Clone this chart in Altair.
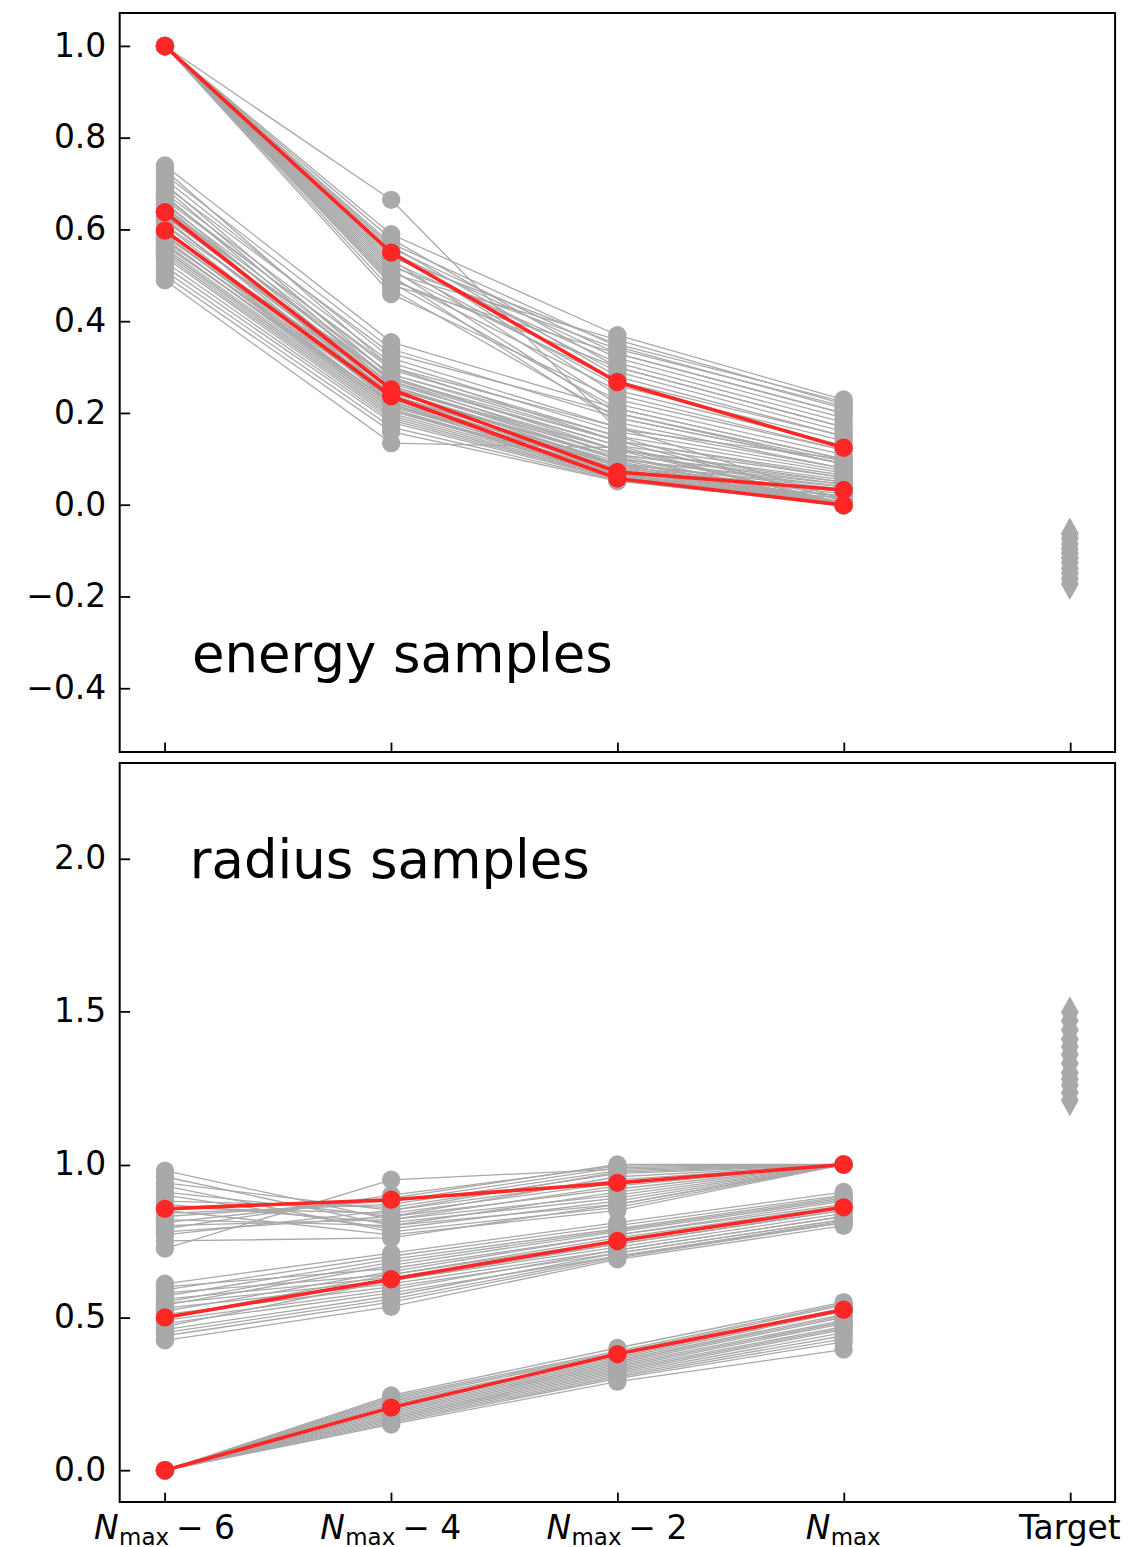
import altair as alt
import pandas as pd

# ---------------- data ----------------
X_INDEX = [0, 1, 2, 3, 4]
LABEL_HEAD = ["N", "N", "N", "N", "Target"]
LABEL_SUB = ["max", "max", "max", "max", ""]
LABEL_TAIL = ["\u2212 6", "\u2212 4", "\u2212 2", "", ""]

ANNOT_TOP = "energy samples"
ANNOT_BOTTOM = "radius samples"

# energy samples: highest state (starts at 1.0)
E_HI_0 = [1.0, 1.0, 1.0, 1.0, 1.0, 1.0, 1.0, 1.0, 1.0, 1.0, 1.0, 1.0,
          1.0, 1.0, 1.0, 1.0, 1.0, 1.0, 1.0, 1.0, 1.0, 1.0, 1.0, 1.0]
E_HI_1 = [0.665, 0.59, 0.58, 0.57, 0.565, 0.56, 0.555, 0.55, 0.545, 0.54, 0.535, 0.53,
          0.525, 0.52, 0.515, 0.51, 0.505, 0.50, 0.495, 0.49, 0.485, 0.48, 0.47, 0.46]
E_HI_2 = [0.165, 0.37, 0.30, 0.345, 0.28, 0.33, 0.24, 0.32, 0.29, 0.35, 0.22, 0.31,
          0.26, 0.34, 0.20, 0.27, 0.36, 0.18, 0.25, 0.30, 0.21, 0.33, 0.19, 0.23]
E_HI_3 = [0.10, 0.23, 0.17, 0.21, 0.15, 0.20, 0.12, 0.19, 0.16, 0.225, 0.11, 0.18,
          0.14, 0.215, 0.09, 0.15, 0.22, 0.08, 0.13, 0.17, 0.10, 0.20, 0.09, 0.12]
# energy samples: middle state
E_MID_0 = [0.74, 0.73, 0.72, 0.71, 0.70, 0.695, 0.69, 0.68, 0.675, 0.67, 0.66, 0.655,
           0.65, 0.645, 0.64, 0.63, 0.625, 0.62, 0.61, 0.60, 0.59, 0.58, 0.57, 0.555]
E_MID_1 = [0.355, 0.30, 0.34, 0.32, 0.28, 0.33, 0.27, 0.31, 0.26, 0.295, 0.25, 0.285,
           0.24, 0.275, 0.235, 0.265, 0.23, 0.255, 0.225, 0.245, 0.22, 0.215, 0.21, 0.205]
E_MID_2 = [0.21, 0.14, 0.19, 0.17, 0.12, 0.20, 0.11, 0.16, 0.10, 0.15, 0.09, 0.14,
           0.085, 0.13, 0.08, 0.12, 0.075, 0.11, 0.07, 0.10, 0.065, 0.09, 0.06, 0.075]
E_MID_3 = [0.10, 0.06, 0.09, 0.08, 0.05, 0.095, 0.045, 0.075, 0.04, 0.07, 0.035, 0.065,
           0.03, 0.06, 0.03, 0.055, 0.025, 0.05, 0.02, 0.045, 0.02, 0.04, 0.015, 0.03]
# energy samples: lowest state
E_LO_0 = [0.665, 0.65, 0.64, 0.63, 0.62, 0.61, 0.60, 0.595, 0.59, 0.585, 0.58, 0.575,
          0.57, 0.565, 0.56, 0.555, 0.55, 0.545, 0.54, 0.53, 0.52, 0.51, 0.50, 0.49]
E_LO_1 = [0.30, 0.27, 0.285, 0.26, 0.25, 0.275, 0.24, 0.255, 0.23, 0.245, 0.22, 0.235,
          0.215, 0.225, 0.21, 0.205, 0.20, 0.195, 0.19, 0.185, 0.18, 0.17, 0.16, 0.135]
E_LO_2 = [0.17, 0.13, 0.15, 0.11, 0.10, 0.14, 0.09, 0.12, 0.085, 0.105, 0.08, 0.095,
          0.075, 0.09, 0.07, 0.068, 0.065, 0.062, 0.06, 0.058, 0.056, 0.054, 0.052, 0.125]
E_LO_3 = [0.012, 0.0, 0.008, 0.0, 0.0, 0.01, 0.0, 0.005, 0.0, 0.004, 0.0, 0.006,
          0.0, 0.003, 0.0, 0.0, 0.002, 0.0, 0.0, 0.0, 0.0, 0.0, 0.0, 0.004]

E_RED_HI = [1.0, 0.55, 0.268, 0.125]
E_RED_MID = [0.638, 0.252, 0.072, 0.033]
E_RED_LO = [0.598, 0.237, 0.058, 0.0]

E_TARGET = [-0.062, -0.072, -0.085, -0.095, -0.105, -0.115, -0.125, -0.138,
            -0.148, -0.16, -0.172]

# radius samples: lowest state
R_LO_0 = [0.0, 0.0, 0.0, 0.0, 0.0, 0.0, 0.0, 0.0, 0.0, 0.0,
          0.0, 0.0, 0.0, 0.0, 0.0, 0.0, 0.0, 0.0, 0.0, 0.0]
R_LO_1 = [0.245, 0.24, 0.235, 0.23, 0.225, 0.22, 0.215, 0.21, 0.205, 0.20,
          0.195, 0.19, 0.185, 0.18, 0.175, 0.17, 0.165, 0.16, 0.155, 0.15]
R_LO_2 = [0.40, 0.39, 0.385, 0.38, 0.37, 0.365, 0.36, 0.355, 0.35, 0.345,
          0.34, 0.335, 0.33, 0.325, 0.32, 0.315, 0.31, 0.305, 0.30, 0.29]
R_LO_3 = [0.55, 0.545, 0.54, 0.53, 0.525, 0.52, 0.51, 0.505, 0.50, 0.49,
          0.485, 0.48, 0.47, 0.465, 0.46, 0.45, 0.44, 0.43, 0.42, 0.395]
# radius samples: middle state
R_MID_0 = [0.61, 0.60, 0.59, 0.58, 0.57, 0.56, 0.55, 0.545, 0.54, 0.53,
           0.52, 0.51, 0.50, 0.49, 0.48, 0.47, 0.46, 0.45, 0.44, 0.425]
R_MID_1 = [0.71, 0.66, 0.70, 0.64, 0.69, 0.63, 0.68, 0.62, 0.67, 0.61,
           0.65, 0.60, 0.64, 0.59, 0.58, 0.62, 0.57, 0.56, 0.55, 0.535]
R_MID_2 = [0.81, 0.77, 0.80, 0.75, 0.79, 0.74, 0.785, 0.73, 0.78, 0.72,
           0.77, 0.71, 0.76, 0.72, 0.70, 0.74, 0.71, 0.70, 0.695, 0.69]
R_MID_3 = [0.91, 0.88, 0.90, 0.86, 0.895, 0.85, 0.89, 0.84, 0.885, 0.83,
           0.87, 0.82, 0.865, 0.83, 0.81, 0.85, 0.82, 0.815, 0.81, 0.80]
# radius samples: highest state (ends at 1.0)
R_HI_0 = [0.98, 0.96, 0.94, 0.93, 0.91, 0.90, 0.88, 0.87, 0.86, 0.85,
          0.84, 0.83, 0.82, 0.81, 0.80, 0.79, 0.78, 0.77, 0.75, 0.725]
R_HI_1 = [0.82, 0.80, 0.85, 0.78, 0.83, 0.79, 0.86, 0.81, 0.84, 0.77,
          0.87, 0.88, 0.80, 0.89, 0.82, 0.90, 0.83, 0.85, 0.76, 0.95]
R_HI_2 = [0.90, 0.87, 0.95, 0.86, 0.92, 0.88, 0.97, 0.89, 0.94, 0.85,
          0.98, 0.99, 0.91, 1.0, 0.93, 0.995, 0.96, 0.975, 0.87, 0.985]
R_HI_3 = [1.0, 1.0, 1.0, 1.0, 1.0, 1.0, 1.0, 1.0, 1.0, 1.0,
          1.0, 1.0, 1.0, 1.0, 1.0, 1.0, 1.0, 1.0, 1.0, 1.0]

R_RED_LO = [0.0, 0.205, 0.38, 0.525]
R_RED_MID = [0.5, 0.625, 0.75, 0.86]
R_RED_HI = [0.855, 0.885, 0.94, 1.0]

R_TARGET = [1.21, 1.235, 1.26, 1.28, 1.30, 1.33, 1.36, 1.385, 1.41, 1.44, 1.47, 1.498]

# ---------------- styling ----------------
GRAY = "#a9a9a9"
RED = "#ff2626"
FONT = "DejaVu Sans"
W, H = 998, 741
DOT = 340
THIN_DIAMOND = "M0,-1L0.56,0L0,1L-0.56,0Z"


def sample_rows(groups, tag):
    rows = []
    for g, cols in enumerate(groups):
        for i in range(len(cols[0])):
            for k, col in enumerate(cols):
                rows.append({"line": f"{tag}{g}_{i}", "idx": X_INDEX[k], "value": col[i]})
    return pd.DataFrame(rows)


def red_rows(series, tag):
    rows = []
    for g, s in enumerate(series):
        for k, v in enumerate(s):
            rows.append({"line": f"{tag}{g}", "idx": X_INDEX[k], "value": v})
    return pd.DataFrame(rows)


def target_rows(vals):
    return pd.DataFrame({"idx": [X_INDEX[4]] * len(vals), "value": vals})


def panel(gray_df, red_df, tgt_df, ydomain, yticks, annot, annot_xy, with_labels):
    xs = alt.Scale(domain=[-0.2, 4.2], nice=False, zero=False)
    ys = alt.Scale(domain=ydomain, nice=False, zero=False)
    xaxis = alt.Axis(values=X_INDEX, labels=False, offset=-10, tickSize=10, tickWidth=1.8,
                     tickColor="black", domain=False, grid=False, title=None)
    yaxis = alt.Axis(values=yticks, format=".1f", offset=-10, tickSize=10, tickWidth=1.8,
                     tickColor="black", domain=False, grid=False, title=None,
                     labelPadding=14, labelFont=FONT, labelFontSize=33, labelColor="black")
    X = alt.X("idx:Q", scale=xs, axis=xaxis)
    Y = alt.Y("value:Q", scale=ys, axis=yaxis)

    gl = alt.Chart(gray_df).mark_line(color=GRAY, strokeWidth=1.3).encode(x=X, y=Y, detail="line:N")
    gp = alt.Chart(gray_df).mark_circle(color=GRAY, size=DOT, opacity=1).encode(x=X, y=Y)
    rl = alt.Chart(red_df).mark_line(color=RED, strokeWidth=3.6).encode(x=X, y=Y, detail="line:N")
    rp = alt.Chart(red_df).mark_circle(color=RED, size=DOT, opacity=1).encode(x=X, y=Y)
    tg = alt.Chart(tgt_df).mark_point(shape=THIN_DIAMOND, filled=True, color=GRAY, size=1024,
                                      opacity=1, strokeWidth=0).encode(x=X, y=Y)
    ann_df = pd.DataFrame({"idx": [annot_xy[0]], "value": [annot_xy[1]], "t": [annot]})
    an = alt.Chart(ann_df).mark_text(font=FONT, fontSize=53, align="left", baseline="alphabetic",
                                     color="black").encode(x=X, y=Y, text="t:N")
    layers = [gl, gp, rl, rp, tg, an]

    if with_labels:
        lab = pd.DataFrame({"idx": X_INDEX, "head": LABEL_HEAD, "sub": LABEL_SUB, "tail": LABEL_TAIL})
        base = alt.Chart(lab)
        yb = alt.value(H + 37)
        ys_ = alt.value(H + 43)
        common = dict(font=FONT, baseline="alphabetic", color="black")
        withtail = base.transform_filter("datum.tail != ''")
        notail = base.transform_filter("datum.tail == '' && datum.sub != ''")
        plain = base.transform_filter("datum.sub == ''")
        layers += [
            withtail.mark_text(fontSize=33, fontStyle="italic", align="left", dx=-71, **common)
                .encode(x=X, y=yb, text="head:N"),
            withtail.mark_text(fontSize=23, align="left", dx=-46, **common)
                .encode(x=X, y=ys_, text="sub:N"),
            withtail.mark_text(fontSize=33, align="left", dx=11, **common)
                .encode(x=X, y=yb, text="tail:N"),
            notail.mark_text(fontSize=33, fontStyle="italic", align="left", dx=-38, **common)
                .encode(x=X, y=yb, text="head:N"),
            notail.mark_text(fontSize=23, align="left", dx=-13, **common)
                .encode(x=X, y=ys_, text="sub:N"),
            plain.mark_text(fontSize=33, align="center", **common)
                .encode(x=X, y=yb, text="head:N"),
        ]
    return alt.layer(*layers).properties(width=W, height=H)


energy_gray = sample_rows([
    [E_HI_0, E_HI_1, E_HI_2, E_HI_3],
    [E_MID_0, E_MID_1, E_MID_2, E_MID_3],
    [E_LO_0, E_LO_1, E_LO_2, E_LO_3],
], "e")
energy_red = red_rows([E_RED_HI, E_RED_MID, E_RED_LO], "er")
radius_gray = sample_rows([
    [R_LO_0, R_LO_1, R_LO_2, R_LO_3],
    [R_MID_0, R_MID_1, R_MID_2, R_MID_3],
    [R_HI_0, R_HI_1, R_HI_2, R_HI_3],
], "r")
radius_red = red_rows([R_RED_LO, R_RED_MID, R_RED_HI], "rr")

top = panel(energy_gray, energy_red, target_rows(E_TARGET), [-0.538, 1.072],
            [-0.4, -0.2, 0.0, 0.2, 0.4, 0.6, 0.8, 1.0], ANNOT_TOP, (0.12, -0.364), False)
bottom = panel(radius_gray, radius_red, target_rows(R_TARGET), [-0.104, 2.313],
               [0.0, 0.5, 1.0, 1.5, 2.0], ANNOT_BOTTOM, (0.11, 1.938), True)

chart = alt.vconcat(top, bottom, spacing=8).properties(
    padding={"left": 24, "top": 10, "right": 26, "bottom": 0},
    background="white",
).configure_view(stroke="black", strokeWidth=2).configure_axis(
    labelFont=FONT, labelFontSize=33, labelColor="black"
)

chart.save("out.html", embed_options={"renderer": "svg", "actions": False})
